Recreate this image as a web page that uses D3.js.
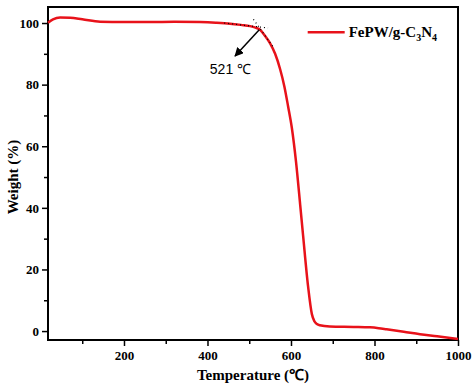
<!DOCTYPE html>
<html>
<head>
<meta charset="utf-8">
<script src="https://cdn.jsdelivr.net/npm/d3@7"></script>
<style>
  body { margin: 0; background: #fff; }
  .tick text { font-family: "Liberation Serif", "Times New Roman", serif; font-weight: bold; font-size: 13px; }
</style>
</head>
<body>
<div id="chart"></div>
<script>
// TGA curve
var temps = [18, 30, 47, 71, 100, 143, 200, 262, 320, 382, 420, 454, 480, 502, 515, 526, 538, 550, 562, 574, 584, 593, 602, 612, 622, 629, 641, 650, 656, 662, 669, 693, 750, 789, 810, 829, 870, 909, 950, 1000];
var weights = [100.1, 101.2, 101.8, 101.7, 101.2, 100.4, 100.3, 100.3, 100.4, 100.3, 100.1, 99.8, 99.4, 99.0, 98.5, 97.8, 95.8, 93.4, 90, 85, 79.5, 73, 66, 55, 41, 31, 14.4, 5.5, 3.2, 2.3, 1.9, 1.5, 1.35, 1.2, 0.95, 0.6, -0.2, -1.0, -1.7, -2.6];
var xTicks = [200, 400, 600, 800, 1000];
var xMinor = [100, 300, 500, 700, 900];
var yTicks = [0, 20, 40, 60, 80, 100];
var yMinor = [10, 30, 50, 70, 90];
var onsetTemp = 521;

var svgWidth = 474, svgHeight = 390;
var margin = { top: 7, right: 16, bottom: 50, left: 48 };
var width = svgWidth - margin.left - margin.right;
var height = svgHeight - margin.top - margin.bottom;

var svg = d3.select("#chart").append("svg")
  .attr("width", svgWidth)
  .attr("height", svgHeight)
  .style("background", "#fff");

var chartGroup = svg.append("g")
  .attr("transform", `translate(${margin.left}, ${margin.top})`);

var x = d3.scaleLinear().domain([18, 1000]).range([0, width]);
var y = d3.scaleLinear().domain([-2.9, 105.2]).range([height, 0]);

// minor ticks first, then major
chartGroup.append("g")
  .attr("transform", `translate(0, ${height})`)
  .call(d3.axisBottom(x).tickValues(xMinor).tickSize(4).tickFormat(""))
  .call(g => g.select(".domain").remove())
  .selectAll("line").attr("stroke-width", 1.5);
chartGroup.append("g")
  .attr("transform", `translate(0, ${height})`)
  .call(d3.axisBottom(x).tickValues(xTicks).tickSize(6).tickPadding(5).tickFormat(d3.format("d")))
  .call(g => g.select(".domain").remove())
  .selectAll("line").attr("stroke-width", 1.5);

chartGroup.append("g")
  .call(d3.axisLeft(y).tickValues(yMinor).tickSize(4).tickFormat(""))
  .call(g => g.select(".domain").remove())
  .selectAll("line").attr("stroke-width", 1.5);
chartGroup.append("g")
  .call(d3.axisLeft(y).tickValues(yTicks).tickSize(6).tickPadding(3))
  .call(g => g.select(".domain").remove())
  .selectAll("line").attr("stroke-width", 1.5);

// frame
chartGroup.append("rect")
  .attr("width", width)
  .attr("height", height)
  .attr("fill", "none")
  .attr("stroke", "#000")
  .attr("stroke-width", 2);

// curve
var line = d3.line()
  .x((d, i) => x(temps[i]))
  .y(d => y(d))
  .curve(d3.curveMonotoneX);

chartGroup.append("path")
  .datum(weights)
  .attr("d", line)
  .attr("fill", "none")
  .attr("stroke", "#e8121a")
  .attr("stroke-width", 2.5);

// onset tangents (dotted)
var tangents = [
  [[440, 100.0], [545, 98.4]],
  [[510, 101.2], [556, 92.5]]
];
chartGroup.selectAll(".tangent")
  .data(tangents)
  .enter()
  .append("line")
  .attr("x1", d => x(d[0][0]))
  .attr("y1", d => y(d[0][1]))
  .attr("x2", d => x(d[1][0]))
  .attr("y2", d => y(d[1][1]))
  .attr("stroke", "#000")
  .attr("stroke-width", 1.2)
  .attr("stroke-dasharray", "1,3");

// arrow
svg.append("defs").append("marker")
  .attr("id", "arrow")
  .attr("viewBox", "0 0 10 10")
  .attr("refX", 9).attr("refY", 5)
  .attr("markerWidth", 6).attr("markerHeight", 6)
  .attr("orient", "auto")
  .append("path")
  .attr("d", "M0,0 L10,5 L0,10 z")
  .attr("fill", "#000");

chartGroup.append("line")
  .attr("x1", x(onsetTemp + 3))
  .attr("y1", y(97.8))
  .attr("x2", x(466))
  .attr("y2", y(89.3))
  .attr("stroke", "#000")
  .attr("stroke-width", 1.5)
  .attr("marker-end", "url(#arrow)");

chartGroup.append("text")
  .attr("x", x(455))
  .attr("y", y(83.6))
  .attr("text-anchor", "middle")
  .attr("font-family", "Liberation Sans, Arial, sans-serif")
  .attr("font-size", "14px")
  .text(onsetTemp + " ℃");

// legend
var legend = chartGroup.append("g")
  .attr("transform", `translate(${x(640)}, ${y(97)})`);
legend.append("line")
  .attr("x1", 0).attr("x2", 37)
  .attr("stroke", "#e8121a")
  .attr("stroke-width", 2.5);
var legendText = legend.append("text")
  .attr("x", 41)
  .attr("y", 5)
  .attr("font-family", "Liberation Serif, Times New Roman, serif")
  .attr("font-weight", "bold")
  .attr("font-size", "15px");
legendText.append("tspan").text("FePW/g-C");
legendText.append("tspan").attr("font-size", "10px").attr("dy", 4).text("3");
legendText.append("tspan").attr("dy", -4).text("N");
legendText.append("tspan").attr("font-size", "10px").attr("dy", 4).text("4");

// axis labels
chartGroup.append("text")
  .attr("x", width / 2)
  .attr("y", height + 40)
  .attr("text-anchor", "middle")
  .attr("font-family", "Liberation Serif, Times New Roman, serif")
  .attr("font-weight", "bold")
  .attr("font-size", "15px")
  .text("Temperature (℃)");

chartGroup.append("text")
  .attr("transform", "rotate(-90)")
  .attr("x", -(y(50)))
  .attr("y", -30)
  .attr("text-anchor", "middle")
  .attr("font-family", "Liberation Serif, Times New Roman, serif")
  .attr("font-weight", "bold")
  .attr("font-size", "15px")
  .text("Weight (%)");
</script>
</body>
</html>
